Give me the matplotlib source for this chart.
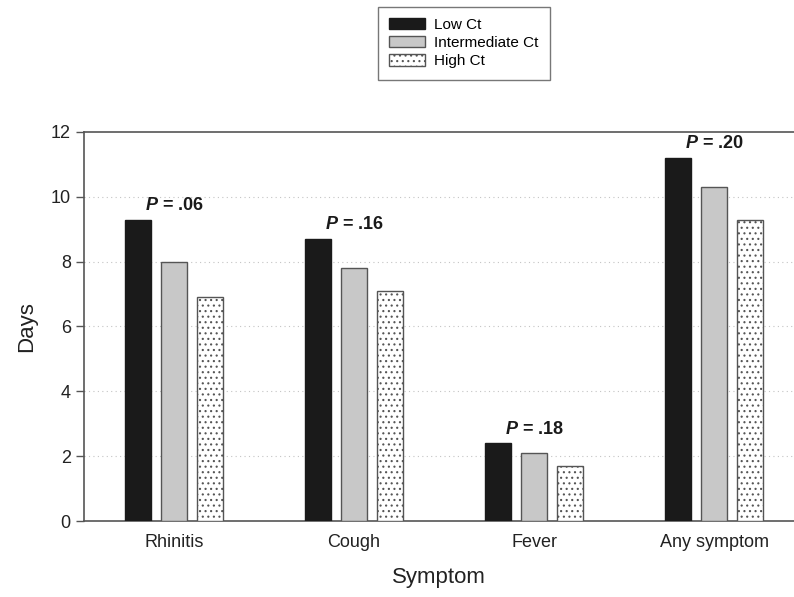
import numpy as np
import matplotlib
matplotlib.use("Agg")
import matplotlib.pyplot as plt

# Данные
symptoms = ["Rhinitis", "Cough", "Fever", "Any symptom"]
low_ct = [9.3, 8.7, 2.4, 11.2]
intermediate_ct = [8.0, 7.8, 2.1, 10.3]
high_ct = [6.9, 7.1, 1.7, 9.3]
p_labels = [".06", ".16", ".18", ".20"]
series_names = ["Low Ct", "Intermediate Ct", "High Ct"]

plt.rcParams["font.family"] = ["Liberation Sans", "DejaVu Sans"]
plt.rcParams["mathtext.fontset"] = "custom"
plt.rcParams["mathtext.it"] = "Liberation Sans:italic:bold"
plt.rcParams["hatch.color"] = "#555555"
plt.rcParams["hatch.linewidth"] = 0.8

fig = plt.figure(figsize=(7.94, 5.97), dpi=100)
ax = fig.add_axes([0.1058, 0.1273, 0.8942, 0.6516])

x = np.arange(len(symptoms))
width = 0.144
step = 0.2
edge = "#555555"

ax.bar(x - step, low_ct, width, color="#1a1a1a", edgecolor="#1a1a1a",
       linewidth=1, label=series_names[0], zorder=3)
ax.bar(x, intermediate_ct, width, color="#c8c8c8", edgecolor=edge,
       linewidth=1, label=series_names[1], zorder=3)
ax.bar(x + step, high_ct, width, color="white", edgecolor=edge,
       linewidth=1, hatch="...", label=series_names[2], zorder=3)

# Подписи p-значений над группами
for xi, top, p in zip(x, low_ct, p_labels):
    ax.text(xi, top + 0.17, r"$\it{P}$ = " + p, ha="center", va="bottom",
            fontsize=13, fontweight="bold", color="#1a1a1a")

ax.set_xlim(-0.5, 3.444)
ax.set_ylim(0, 12)
ax.set_yticks(range(0, 13, 2))
ax.set_xticks(x)
ax.set_xticklabels(symptoms)
ax.tick_params(axis="x", length=0, pad=9, labelsize=13, colors="#222222")
ax.tick_params(axis="y", length=6, width=1, direction="out", labelsize=13,
               colors="#222222")
ax.tick_params(axis="y", color="#555555")

for yv in range(2, 12, 2):
    ax.axhline(yv, color="#c4c4c4", linestyle=(0, (1, 3)), linewidth=0.8, zorder=1)

for side in ["left", "bottom", "top"]:
    ax.spines[side].set_color("#555555")
    ax.spines[side].set_linewidth(1.2)
ax.spines["right"].set_visible(False)

ax.set_ylabel("Days", fontsize=16, labelpad=10, color="#222222")
ax.set_xlabel("Symptom", fontsize=16, labelpad=12, color="#222222")

leg = fig.legend(loc="upper left", bbox_to_anchor=(0.476, 0.989),
                 fontsize=11, frameon=True, fancybox=False,
                 handlelength=2.3, handleheight=0.75, handletextpad=0.6,
                 labelspacing=0.27, borderpad=0.75, borderaxespad=0)
leg.get_frame().set_edgecolor("#555555")
leg.get_frame().set_linewidth(1.0)

fig.savefig("out.png", dpi=100)
